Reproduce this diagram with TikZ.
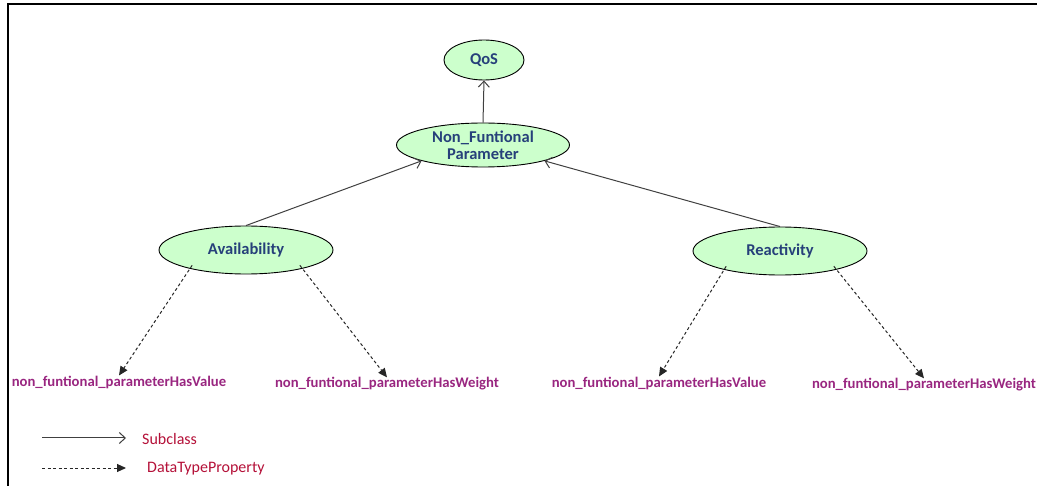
\documentclass[tikz,border=0pt]{standalone}
\usepackage{fontspec}
\setmainfont{Carlito}
\usetikzlibrary{shapes.geometric,arrows.meta}
\definecolor{nodefill}{RGB}{204,255,204}
\definecolor{nodetext}{RGB}{38,64,122}
\definecolor{proptext}{RGB}{153,38,128}
\definecolor{legendtext}{RGB}{180,16,56}
\tikzset{
  cls/.style={ellipse, draw=black, line width=0.9pt, fill=nodefill, inner sep=0pt,
    text=nodetext, font=\fontsize{16.5}{17}\selectfont\bfseries, align=center},
  prop/.style={inner sep=0pt, text=proptext, font=\fontsize{14.7}{15}\selectfont\bfseries},
  legtext/.style={inner sep=0pt, anchor=west, text=legendtext, font=\fontsize{16}{17}\selectfont},
  subcls/.style={draw=black!75, line width=1pt, -{Straight Barb[length=6pt,width=11pt]}},
  dtprop/.style={draw=black!85, line width=1pt, dashed, dash pattern=on 3pt off 2.5pt,
    -{Triangle[length=9pt,width=8pt]}},
}
\begin{document}
\begin{tikzpicture}[x=1pt,y=-1pt]
  \useasboundingbox (0,0) rectangle (1037,486);
  % frame
  \draw[line width=2.6pt] (8,486) -- (8,4) -- (1037,4);

  % class nodes
  \node[cls, minimum width=80pt, minimum height=40pt] (qos) at (484,60) {QoS};
  \node[cls, minimum width=173pt, minimum height=44pt] (nfp) at (483,145) {Non\_Funtional\\Parameter};
  \node[cls, minimum width=174pt, minimum height=48pt] (avail) at (246,250) {Availability};
  \node[cls, minimum width=174pt, minimum height=48pt] (react) at (780,251) {Reactivity};

  % property labels
  \node[prop] (av1) at (119,382) {non\_funtional\_parameterHasValue};
  \node[prop] (av2) at (387,384) {non\_funtional\_parameterHasWeight};
  \node[prop] (re1) at (659,383) {non\_funtional\_parameterHasValue};
  \node[prop] (re2) at (924,385) {non\_funtional\_parameterHasWeight};

  % subclass links
  \draw[subcls] (nfp.north) -- (qos.south);
  \draw[subcls] (avail.north) -- (nfp.south west);
  \draw[subcls] (react.north) -- (nfp.south east);

  % datatype property links
  \draw[dtprop] (avail.south west) ++(8,-2) coordinate (a1) -- (av1.north);
  \draw[dtprop] (avail.south east) ++(-8,-2) coordinate (a2) -- (av2.north);
  \draw[dtprop] (react.south west) ++(8,-2) coordinate (r1) -- (re1.north);
  \draw[dtprop] (react.south east) ++(-8,-2) coordinate (r2) -- (re2.north);

  % legend
  \coordinate (ls1) at (42,438);
  \coordinate (le1) at (126,438);
  \coordinate (ls2) at (42,468);
  \coordinate (le2) at (126,468);
  \draw[subcls] (ls1) -- (le1);
  \draw[dtprop] (ls2) -- (le2);
  \node[legtext] (lsub) at (142,439) {Subclass};
  \node[legtext] (ldt) at (147,469) {DataTypeProperty};
\end{tikzpicture}
\end{document}
